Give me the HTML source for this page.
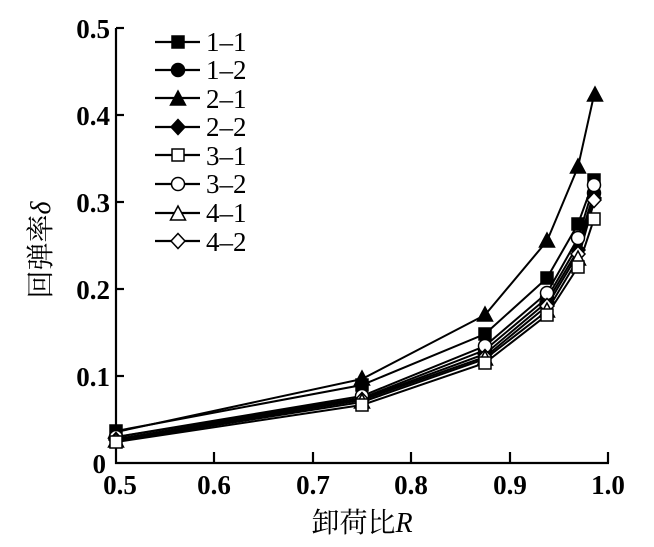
<!DOCTYPE html>
<html><head><meta charset="utf-8"><style>
body{margin:0;background:#fff;}
svg text{font-family:"Liberation Serif","Noto Serif CJK SC",serif;fill:#000;}
</style></head><body>
<svg width="654" height="542" viewBox="0 0 654 542" xmlns="http://www.w3.org/2000/svg">
<defs>
<g id="sq"><rect x="-6" y="-6" width="12" height="12"/></g>
<g id="ci"><circle r="6.5"/></g>
<g id="tr"><polygon points="0,-8 7.5,6 -7.5,6"/></g>
<g id="di"><polygon points="0,-7.5 7,0 0,7.5 -7,0"/></g>
</defs>
<g stroke="#000" stroke-width="2.2" fill="none">
<line x1="116" y1="28" x2="116" y2="464"/>
<line x1="115" y1="463" x2="609" y2="463"/>
<line x1="116" y1="28" x2="124" y2="28"/>
<line x1="116" y1="115" x2="124" y2="115"/>
<line x1="116" y1="202" x2="124" y2="202"/>
<line x1="116" y1="289" x2="124" y2="289"/>
<line x1="116" y1="376" x2="124" y2="376"/>
<line x1="214" y1="463" x2="214" y2="452"/>
<line x1="313" y1="463" x2="313" y2="452"/>
<line x1="411" y1="463" x2="411" y2="452"/>
<line x1="510" y1="463" x2="510" y2="452"/>
<line x1="608" y1="463" x2="608" y2="452"/>
</g>
<g font-size="27" font-weight="bold" text-anchor="end">
<text x="110" y="38">0.5</text><text x="110" y="125">0.4</text><text x="110" y="212">0.3</text>
<text x="110" y="299">0.2</text><text x="110" y="386">0.1</text><text x="106" y="473">0</text>
</g>
<g font-size="27" font-weight="bold" text-anchor="middle">
<text x="120" y="494">0.5</text><text x="214" y="494">0.6</text><text x="313" y="494">0.7</text>
<text x="411" y="494">0.8</text><text x="510" y="494">0.9</text><text x="608" y="494">1.0</text>
</g>
<text x="362" y="532" font-size="28" text-anchor="middle">卸荷比<tspan font-style="italic">R</tspan></text>
<text transform="translate(50,250) rotate(-90)" font-size="28" text-anchor="middle">回弹率<tspan font-style="italic">δ</tspan></text>
<g stroke="#000" stroke-width="2" fill="none">
<polyline points="116,432 362,379 485,315 547,241 578,167 594,95"/>
<polyline points="116,431 362,385 485,334 547,278 578,224 594,180"/>
<polyline points="116,437 362,396 485,346 547,293 578,238 594,185"/>
<polyline points="116,437 362,398 485,350 547,298 578,245 594,193"/>
<polyline points="116,439 362,399 485,354 547,302 578,250 594,198"/>
<polyline points="116,440 362,400 485,357 547,306 578,254 594,200"/>
<polyline points="116,441 362,402 485,359 547,311 578,259 594,202"/>
<polyline points="116,442 362,405 485,363 547,315 578,267 594,219"/>
</g>
<g fill="#000" stroke="#000" stroke-width="1.5">
<g><use href="#tr" x="116" y="432"/><use href="#tr" x="362" y="379"/><use href="#tr" x="485" y="315"/><use href="#tr" x="547" y="241"/><use href="#tr" x="578" y="167"/><use href="#tr" x="595" y="95"/></g>
<g><use href="#sq" x="116" y="431"/><use href="#sq" x="362" y="385"/><use href="#sq" x="485" y="334"/><use href="#sq" x="547" y="278"/><use href="#sq" x="578" y="224"/><use href="#sq" x="594" y="180"/></g>
<g><use href="#ci" x="116" y="437"/><use href="#ci" x="485" y="350"/><use href="#ci" x="547" y="298"/><use href="#ci" x="594" y="193"/></g>
<g><use href="#di" x="116" y="439"/><use href="#di" x="485" y="354"/><use href="#di" x="547" y="302"/><use href="#di" x="578" y="250"/><use href="#di" x="594" y="198"/></g>
</g>
<g fill="#fff" stroke="#000" stroke-width="1.5">
<use href="#ci" x="116" y="437"/><use href="#ci" x="362" y="396"/><use href="#ci" x="485" y="346"/><use href="#ci" x="547" y="293"/><use href="#ci" x="578" y="238"/><use href="#ci" x="594" y="185"/>
<use href="#di" x="116" y="440"/><use href="#di" x="362" y="400"/><use href="#di" x="485" y="357"/><use href="#di" x="547" y="306"/><use href="#di" x="578" y="254"/><use href="#di" x="594" y="200"/>
<use href="#tr" x="116" y="441"/><use href="#tr" x="362" y="402"/><use href="#tr" x="485" y="359"/><use href="#tr" x="547" y="311"/><use href="#tr" x="578" y="259"/>
<use href="#sq" x="116" y="442"/><use href="#sq" x="362" y="405"/><use href="#sq" x="485" y="363"/><use href="#sq" x="547" y="315"/><use href="#sq" x="578" y="267"/><use href="#sq" x="594" y="219"/>
</g>
<g stroke="#000" stroke-width="2.2">
<line x1="155" y1="42" x2="200" y2="42"/><line x1="155" y1="70" x2="200" y2="70"/>
<line x1="155" y1="98" x2="200" y2="98"/><line x1="155" y1="127" x2="200" y2="127"/>
<line x1="155" y1="155" x2="200" y2="155"/><line x1="155" y1="184" x2="200" y2="184"/>
<line x1="155" y1="213" x2="200" y2="213"/><line x1="155" y1="241" x2="200" y2="241"/>
</g>
<g fill="#000" stroke="#000" stroke-width="1.5">
<use href="#sq" x="178" y="42"/><use href="#ci" x="178" y="70"/><use href="#tr" x="178" y="99"/><use href="#di" x="178" y="127"/>
</g>
<g fill="#fff" stroke="#000" stroke-width="1.5">
<use href="#sq" x="178" y="155"/><use href="#ci" x="178" y="184"/><use href="#tr" x="178" y="214"/><use href="#di" x="178" y="241"/>
</g>
<g font-size="27">
<text x="206" y="51">1–1</text><text x="206" y="79">1–2</text><text x="206" y="108">2–1</text><text x="206" y="136">2–2</text>
<text x="206" y="165">3–1</text><text x="206" y="193">3–2</text><text x="206" y="222">4–1</text><text x="206" y="251">4–2</text>
</g>
</svg>
</body></html>
